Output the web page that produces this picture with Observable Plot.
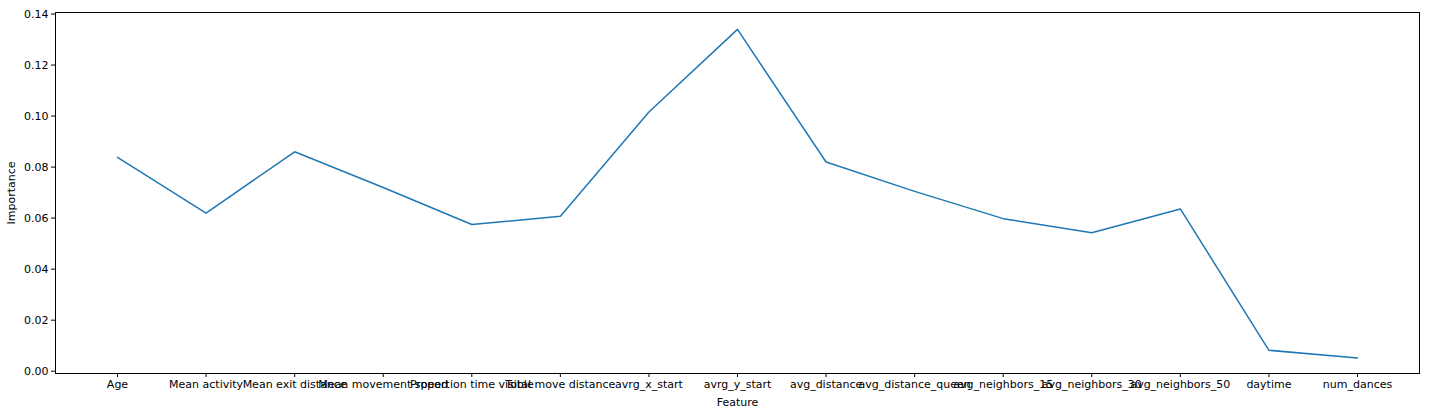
<!DOCTYPE html>
<html><head><meta charset="utf-8">
<script src="https://cdn.jsdelivr.net/npm/d3@7"></script>
<script src="https://cdn.jsdelivr.net/npm/@observablehq/plot@0.6"></script>
<style>body{margin:0;background:#fff}</style>
</head><body><div id="chart"></div>
<script>
const features = ['Age', 'Mean activity', 'Mean exit distance', 'Mean movement speed', 'Proportion time visible',
  'Total move distance', 'avrg_x_start', 'avrg_y_start', 'avg_distance', 'avg_distance_queen',
  'avg_neighbors_15', 'avg_neighbors_30', 'avg_neighbors_50', 'daytime', 'num_dances']
const importance = [0.0838, 0.0620, 0.0860, 0.0720, 0.0575, 0.0607, 0.1016, 0.1340, 0.0820, 0.0705,
  0.0598, 0.0543, 0.0636, 0.0082, 0.0052]

const data = features.map((f, i) => ({feature: f, importance: importance[i]}))

const chart = Plot.plot({
  width: 1430, height: 415,
  marginLeft: 55, marginRight: 11, marginTop: 12, marginBottom: 42,
  style: {fontFamily: 'DejaVu Sans', fontSize: '11px', color: '#000'},
  x: {type: 'point', domain: features, padding: 0.7, round: false},
  y: {domain: [-0.0009, 0.1406]},
  marks: [
    Plot.frame({stroke: '#000'}),
    Plot.axisX({tickSize: 4, tickPadding: 3, label: 'Feature', labelAnchor: 'center', labelOffset: 32}),
    Plot.axisY({tickSize: 4, tickPadding: 3, ticks: d3.range(0, 0.141, 0.02), tickFormat: d3.format('.2f'),
      label: 'Importance', labelAnchor: 'center', labelOffset: 48, labelArrow: 'none'}),
    Plot.line(data, {x: 'feature', y: 'importance', stroke: '#1f77b4', strokeWidth: 1.5})
  ]
})
document.getElementById('chart').append(chart)
</script></body></html>
